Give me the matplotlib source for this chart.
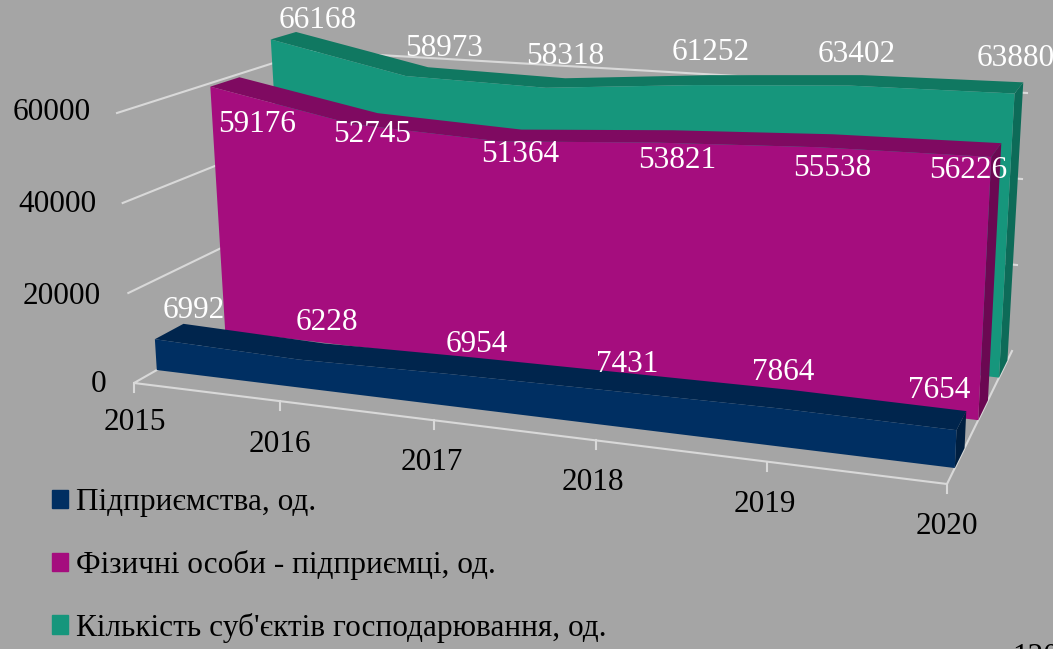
import matplotlib
matplotlib.use("Agg")
import matplotlib.pyplot as plt
from matplotlib.patches import Patch

plt.rcParams["font.family"] = ["Liberation Serif", "DejaVu Serif"]

years = ["2015", "2016", "2017", "2018", "2019", "2020"]
value_ticks = [0, 20000, 40000, 60000]

pidpr = [6992, 6228, 6954, 7431, 7864, 7654]
fop = [59176, 52745, 51364, 53821, 55538, 56226]
total = [66168, 58973, 58318, 61252, 63402, 63880]

names = ["Підприємства, од.", "Фізичні особи - підприємці, од.", "Кількість суб'єктів господарювання, од."]

W, H = 1053, 649
BG = "#a5a5a5"
GRID = "#d9d9d9"

# corners of the 3d box in image pixels: (floor point, point at 60000)
FRONT_L = ((134, 383), (117, 113))
FRONT_R = ((947, 484), (960, 182))
BACK_L = ((324, 275), (311, 51))
BACK_R = ((1012, 351), (1027, 93))


def lerp(a, b, t):
    return a + (b - a) * t


def project(u, d, v):
    # u along years 0-1, d depth 0-1, v value. slight perspective along u
    t = u / (u + 1.139 * (1 - u))
    res = []
    for i in range(2):
        floor_f = lerp(FRONT_L[0][i], FRONT_R[0][i], t)
        floor_b = lerp(BACK_L[0][i], BACK_R[0][i], t)
        top_f = lerp(FRONT_L[1][i], FRONT_R[1][i], t)
        top_b = lerp(BACK_L[1][i], BACK_R[1][i], t)
        floor = lerp(floor_f, floor_b, d)
        top = lerp(top_f, top_b, d)
        res.append(lerp(floor, top, v / 60000))
    return res


def poly(pts, color, z):
    ax.fill([p[0] for p in pts], [p[1] for p in pts], color=color, lw=0, zorder=z)


fig = plt.figure(figsize=(W / 100, H / 100), dpi=100, facecolor=BG)
ax = fig.add_axes([0, 0, 1, 1])
ax.set_xlim(0, W)
ax.set_ylim(H, 0)
ax.axis("off")

# walls and floor lines
for v in value_ticks[1:]:
    a = project(0, 0, v)
    b = project(0, 1, v)
    c = project(1, 1, v)
    ax.plot([a[0], b[0], c[0]], [a[1], b[1], c[1]], color=GRID, lw=1.5, zorder=1)
a = project(0, 1, 0)
b = project(0, 0, 0)
c = project(1, 0, 0)
d = project(1, 1, 0)
ax.plot([a[0], b[0], c[0], d[0]], [a[1], b[1], c[1], d[1]], color=GRID, lw=1.5, zorder=1)

# ticks on the front edge
n = len(years)
for i in range(n):
    p = project(i / (n - 1), 0, 0)
    ax.plot([p[0], p[0]], [p[1], p[1] + 9], color=GRID, lw=1.5, zorder=1)

# series back to front: values, colors (front, top, side), depth front/back
layers = [
    (total, "#16967c", "#107861", "#0d6b58", 0.80, 0.93),
    (fop, "#a50d7e", "#7f0a61", "#6b0852", 0.48, 0.63),
    (pidpr, "#002f62", "#00254d", "#001f40", 0.12, 0.27),
]

z = 2
for vals, c_front, c_top, c_side, d0, d1 in layers:
    us = [i / (n - 1) for i in range(n)]
    # right side
    poly([project(1, d0, 0), project(1, d1, 0), project(1, d1, vals[-1]), project(1, d0, vals[-1])], c_side, z)
    # top strip
    poly([project(u, d0, v) for u, v in zip(us, vals)]
         + [project(u, d1, v) for u, v in zip(us[::-1], vals[::-1])], c_top, z + 1)
    # front face
    poly([project(0, d0, 0)] + [project(u, d0, v) for u, v in zip(us, vals)] + [project(1, d0, 0)], c_front, z + 2)
    z += 3

# axis labels
FS = 22.5
value_label_xy = [(99, 384), (62, 296), (57, 205), (52, 113)]
for v, (x, y) in zip(value_ticks, value_label_xy):
    ax.text(x, y, str(v), ha="center", va="center", fontsize=FS, color="black", zorder=20)

year_label_xy = [(135, 423), (280, 444), (432, 463), (593, 482), (765, 504), (947, 526)]
for s, (x, y) in zip(years, year_label_xy):
    ax.text(x, y, s, ha="center", va="center", fontsize=FS, color="black", zorder=20)

# data labels
total_xy = [(318, 21), (444, 49), (565, 57), (711, 53), (857, 55), (1016, 59)]
fop_xy = [(257, 124), (372, 134), (520, 154), (677, 161), (832, 168), (968, 170)]
pidpr_xy = [(194, 311), (327, 323), (477, 344), (627, 364), (783, 372), (939, 391)]
for vals, pos in [(total, total_xy), (fop, fop_xy), (pidpr, pidpr_xy)]:
    for v, (x, y) in zip(vals, pos):
        ax.text(x, y, str(v), ha="center", va="center", fontsize=FS, color="white", zorder=21)

# legend
handles = [Patch(color=c) for c in ["#002f62", "#a50d7e", "#16967c"]]
ax.legend(handles, names, loc="upper left", bbox_to_anchor=(52 / W, 1 - 488 / H), frameon=False,
          fontsize=FS, handlelength=0.52, handleheight=0.52, handletextpad=0.26, labelspacing=1.05,
          borderpad=0, borderaxespad=0, labelcolor="black")

ax.text(1012, 643, "120", ha="left", va="top", fontsize=FS, color="black", clip_on=True)

plt.savefig("out.png", dpi=100, facecolor=BG)
